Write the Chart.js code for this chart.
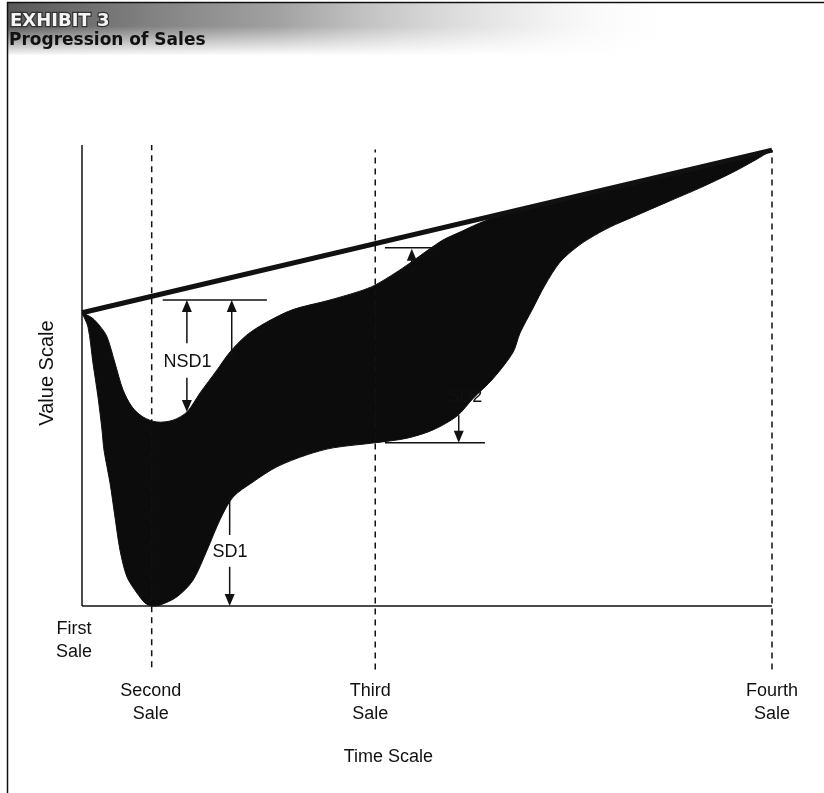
<!DOCTYPE html>
<html>
<head>
<meta charset="utf-8">
<title>Progression of Sales</title>
<script src="https://cdn.jsdelivr.net/npm/chart.js@4.4.0/dist/chart.umd.min.js"></script>
<style>
  html, body { margin: 0; padding: 0; background: #fff; }
  #wrap { width: 824px; height: 793px; }
</style>
</head>
<body>
<div id="wrap"><canvas id="salesChart" width="824" height="793"></canvas></div>
<script>
// time scale: 0 = first sale, 100 = fourth sale; value scale: 0 at the time axis
const saleTimes = [0, 10.1, 42.5, 100];
const saleNames = [['First', 'Sale'], ['Second', 'Sale'], ['Third', 'Sale'], ['Fourth', 'Sale']];

// straight line from first to fourth sale
const trendTime = [0, 100];
const trendValue = [63.6, 98.9];

// upper edge of the shaded band
const upperTime = [0, 1.45, 2.61, 3.62, 4.78, 5.94, 7.25, 8.84, 10.87, 13.19,
  15.22, 17.10, 19.57, 21.45, 23.91, 26.81, 30.58, 35.51, 40.29, 42.46,
  45.36, 47.54, 50.14, 52.32, 54.78, 57.39, 62.0, 80, 100];
const upperValue = [63.6, 62.5, 60.7, 58.4, 52.7, 46.9, 43.2, 41.0, 39.9, 40.3,
  42.1, 46.2, 51.2, 55.1, 58.8, 61.6, 64.3, 66.2, 68.3, 69.6,
  72.2, 74.4, 77.2, 79.4, 81.1, 82.9, 85.5, 91.8, 98.9];

// lower edge of the shaded band
const lowerTime = [0, 0.87, 1.59, 2.32, 2.90, 3.19, 4.06, 4.78, 5.51, 6.52,
  7.97, 9.13, 10.14, 11.30, 13.77, 16.09, 18.12, 20.0, 21.88, 24.78,
  28.26, 32.61, 36.38, 42.46, 47.10, 50.87, 54.35, 56.67, 59.57, 62.46,
  63.48, 65.36, 67.10, 69.28, 71.74, 73.62, 76.52, 79.86, 84.78, 89.57,
  94.35, 97.54, 100];
const lowerValue = [63.6, 60.5, 52.7, 45.3, 38.2, 33.8, 26.7, 19.3, 12.1, 6.3,
  2.8, 0.65, 0, 0.2, 2.0, 5.6, 12.1, 18.7, 23.6, 26.9,
  30.2, 32.8, 34.3, 35.4, 36.4, 38.2, 41.2, 45.0, 49.3, 55.0,
  59.2, 64.6, 69.6, 74.6, 77.9, 79.8, 82.2, 84.4, 87.6, 90.7,
  94.1, 96.7, 98.9];

// annotation marks: [time from, time to, value] and [time, value from, value to]
const guideBars = [[11.7, 26.8, 66.4], [43.9, 51.4, 77.7], [43.9, 58.4, 35.4]];
const arrowMarks = [[15.2, 57.0, 66.4], [21.7, 53.4, 66.4], [15.2, 49.5, 42.1],
  [21.4, 8.5, 0], [47.8, 74.4, 77.5], [54.6, 41.4, 35.4]];
const plainTicks = [[21.4, 23.0, 15.4]];
const markLabels = ['NSD1', 'SD1', 'SD2'];
const markTime = [15.3, 21.45, 58.0];
const markValue = [52.9, 11.7, 45.3];

const pts = (xs, ys) => xs.map((x, i) => ({ x: x, y: ys[i] }));
const bandPoints = pts(upperTime, upperValue).concat(pts(lowerTime, lowerValue).reverse());

const lineSet = (data, width, extra) => Object.assign({
  data: data,
  showLine: true,
  borderColor: '#111',
  borderWidth: width,
  pointRadius: 0,
  pointHoverRadius: 0,
  fill: false,
  clip: false,
  order: 1
}, extra || {});

const datasets = [
  lineSet(pts(trendTime, trendValue), 5),
  lineSet([{ x: 0, y: 0 }, { x: 0, y: 100 }], 1.5),
  lineSet([{ x: 0, y: 0 }, { x: 100, y: 0 }], 1.5),
  lineSet([{ x: saleTimes[1], y: -13.3 }, { x: saleTimes[1], y: 100 }], 1.5, { borderDash: [6, 5] }),
  lineSet([{ x: saleTimes[2], y: -13.8 }, { x: saleTimes[2], y: 99 }], 1.5, { borderDash: [6, 5] }),
  lineSet([{ x: saleTimes[3], y: -13.8 }, { x: saleTimes[3], y: 98.9 }], 1.5, { borderDash: [6, 5] }),
  lineSet(bandPoints, 1, { fill: 'shape', backgroundColor: '#0c0c0c', tension: 0.3, order: 10 })
];

const LABEL_FONT = '18px "Liberation Sans", Arial, sans-serif';

const sketchPlugin = {
  id: 'sketch',
  beforeDraw(chart) {
    const ctx = chart.ctx;
    ctx.save();
    ctx.fillStyle = '#fff';
    ctx.fillRect(0, 0, chart.width, chart.height);

    // grey title band fading to the right and downwards
    const g = ctx.createLinearGradient(8, 0, 680, 0);
    g.addColorStop(0, 'rgba(70,70,70,0.9)');
    g.addColorStop(0.4, 'rgba(110,110,110,0.65)');
    g.addColorStop(0.75, 'rgba(170,170,170,0.25)');
    g.addColorStop(1, 'rgba(255,255,255,0)');
    ctx.fillStyle = g;
    ctx.fillRect(8, 3, 680, 52);
    const fade = ctx.createLinearGradient(0, 26, 0, 56);
    fade.addColorStop(0, 'rgba(255,255,255,0)');
    fade.addColorStop(1, 'rgba(255,255,255,1)');
    ctx.fillStyle = fade;
    ctx.fillRect(8, 26, 680, 31);

    // frame
    ctx.strokeStyle = '#111';
    ctx.lineWidth = 1.5;
    ctx.beginPath();
    ctx.moveTo(7.5, 2);
    ctx.lineTo(7.5, 793);
    ctx.moveTo(7, 2.5);
    ctx.lineTo(824, 2.5);
    ctx.stroke();

    ctx.textBaseline = 'alphabetic';
    ctx.textAlign = 'left';
    ctx.font = 'bold 18px "DejaVu Sans", sans-serif';
    ctx.lineWidth = 2.5;
    ctx.strokeStyle = '#333';
    ctx.strokeText('EXHIBIT 3', 10, 26);
    ctx.fillStyle = '#f4f4f4';
    ctx.fillText('EXHIBIT 3', 10, 26);
    ctx.font = 'bold 17px "DejaVu Sans", sans-serif';
    ctx.fillStyle = '#111';
    ctx.fillText('Progression of Sales', 9, 45);
    ctx.restore();
  },
  afterDatasetsDraw(chart) {
    const ctx = chart.ctx;
    const xs = chart.scales.x, ys = chart.scales.y;
    const px = v => xs.getPixelForValue(v);
    const py = v => ys.getPixelForValue(v);
    ctx.save();
    ctx.strokeStyle = '#111';
    ctx.fillStyle = '#111';
    ctx.lineWidth = 1.5;

    guideBars.forEach(b => {
      ctx.beginPath();
      ctx.moveTo(px(b[0]), py(b[2]));
      ctx.lineTo(px(b[1]), py(b[2]));
      ctx.stroke();
    });
    plainTicks.forEach(t => {
      ctx.beginPath();
      ctx.moveTo(px(t[0]), py(t[1]));
      ctx.lineTo(px(t[0]), py(t[2]));
      ctx.stroke();
    });
    arrowMarks.forEach(a => {
      const x = px(a[0]), y1 = py(a[1]), y2 = py(a[2]);
      const dir = y2 > y1 ? 1 : -1;
      ctx.beginPath();
      ctx.moveTo(x, y1);
      ctx.lineTo(x, y2 - dir * 8);
      ctx.stroke();
      ctx.beginPath();
      ctx.moveTo(x, y2);
      ctx.lineTo(x - 5, y2 - dir * 12);
      ctx.lineTo(x + 5, y2 - dir * 12);
      ctx.closePath();
      ctx.fill();
    });

    ctx.font = LABEL_FONT;
    ctx.textBaseline = 'middle';
    markLabels.forEach((t, i) => {
      ctx.textAlign = i === 2 ? 'right' : 'center';
      ctx.fillText(t, px(markTime[i]), py(markValue[i]));
    });

    // sale labels under the time axis
    ctx.textAlign = 'center';
    saleNames.forEach((lines, i) => {
      const x = px(saleTimes[i]) + (i === 0 ? -8 : i === 2 ? -5 : i === 1 ? -1 : 0);
      const top = i === 0 ? 629 : 691;
      lines.forEach((s, k) => ctx.fillText(s, x, top + k * 23));
    });
    ctx.fillText('Time Scale', px(44.4), 757);

    ctx.save();
    ctx.translate(47, 373);
    ctx.rotate(-Math.PI / 2);
    ctx.font = '20px "Liberation Sans", Arial, sans-serif';
    ctx.fillText('Value Scale', 0, 0);
    ctx.restore();
    ctx.restore();
  }
};

new Chart(document.getElementById('salesChart'), {
  type: 'scatter',
  data: { datasets: datasets },
  options: {
    responsive: false,
    animation: false,
    devicePixelRatio: 1,
    events: [],
    layout: { padding: { left: 82, right: 52, top: 145, bottom: 122.5 } },
    plugins: { legend: { display: false }, tooltip: { enabled: false } },
    scales: {
      x: { type: 'linear', min: 0, max: 100, display: false },
      y: { type: 'linear', min: -14, max: 100, display: false }
    }
  },
  plugins: [sketchPlugin]
});
</script>
</body>
</html>
